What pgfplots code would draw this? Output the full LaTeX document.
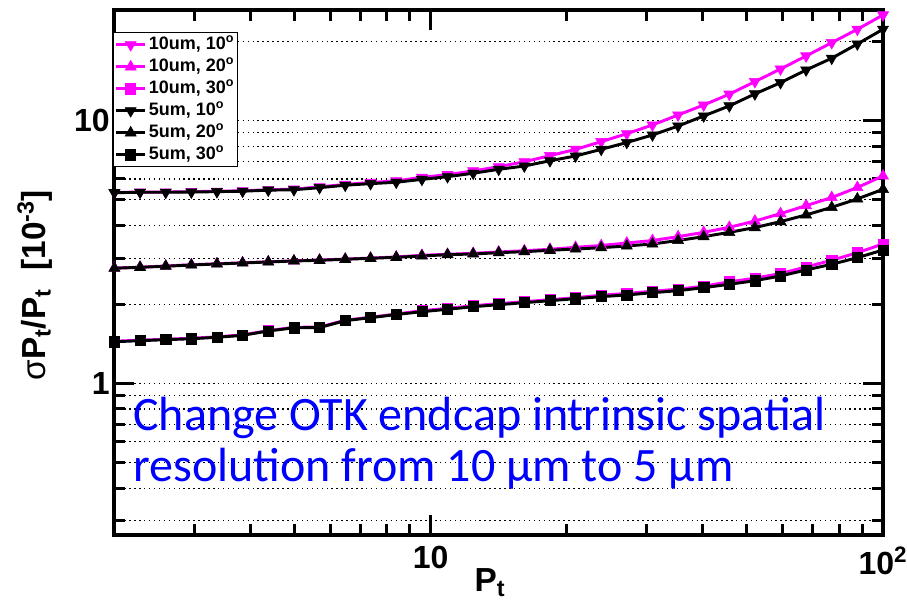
\documentclass[border=0pt]{standalone}
\usepackage{fontspec}
\setmainfont{Liberation Sans}
\newfontfamily\carlito{Carlito}
\usepackage{pgfplots}
\usepackage{pgfplotstable}
\pgfplotsset{compat=1.18}
\definecolor{rootmag}{RGB}{255,0,255}
\definecolor{rootblue}{RGB}{0,0,255}

% sigma(Pt)/Pt [1e-3] vs Pt; m = 10um, b = 5um; 10/20/30 degrees
\pgfplotstableread{
x      m10    m20    m30    b10    b20    b30
2.000  5.33   2.75   1.448  5.32   2.744  1.442
2.279  5.35   2.77   1.461  5.34   2.768  1.455
2.597  5.35   2.80   1.474  5.34   2.793  1.468
2.959  5.37   2.83   1.486  5.35   2.824  1.480
3.371  5.39   2.855  1.505  5.37   2.849  1.499
3.841  5.41   2.88   1.531  5.39   2.874  1.525
4.377  5.46   2.905  1.590  5.44   2.900  1.584
4.987  5.49   2.93   1.636  5.46   2.925  1.629
5.682  5.60   2.95   1.640  5.56   2.943  1.633
6.475  5.72   2.975  1.741  5.68   2.969  1.734
7.368  5.82   3.00   1.787  5.76   2.995  1.780
8.395  5.90   3.03   1.838  5.83   3.021  1.830
9.566  6.09   3.075  1.893  5.98   3.056  1.876
10.899 6.23   3.102  1.933  6.12   3.091  1.916
12.419 6.44   3.129  1.977  6.31   3.110  1.960
14.142 6.68   3.165  2.013  6.53   3.146  1.995
16.114 6.98   3.201  2.048  6.72   3.173  2.030
18.360 7.36   3.241  2.084  7.04   3.212  2.066
20.915 7.78   3.298  2.121  7.34   3.249  2.102
23.829 8.32   3.350  2.168  7.78   3.286  2.140
27.144 8.92   3.424  2.201  8.26   3.336  2.172
30.935 9.63   3.50   2.245  8.82   3.395  2.216
35.245 10.51  3.62   2.285  9.54   3.50   2.255
40.146 11.47  3.76   2.346  10.42  3.62   2.315
45.742 12.61  3.93   2.438  11.38  3.76   2.385
52.100 14.08  4.15   2.515  12.64  3.92   2.461
59.36  15.73  4.43   2.621  13.95  4.13   2.565
67.62  17.63  4.75   2.776  15.59  4.38   2.704
77.04  19.81  5.10   2.943  17.28  4.68   2.842
87.77  22.27  5.57   3.146  19.58  5.04   3.011
100    25.25  6.16   3.395  22.27  5.48   3.221
}\ptres

\begin{document}
\begin{tikzpicture}
\useasboundingbox (-85.8pt,-51.75pt) rectangle (594.45pt,401.25pt);
\begin{axis}[
  at={(0,0)}, anchor=south west,
  scale only axis, width=576.45pt, height=393.75pt,
  xmode=log, ymode=log,
  xmin=2, xmax=100, ymin=0.2652, ymax=26.37,
  clip=false,
  axis line style={line width=3pt},
  every tick/.style={black, line width=2.25pt},
  major tick length=15pt, minor tick length=8pt,
  xtick={10,100}, xticklabels={10,10\textsuperscript{2}},
  minor xtick={3,4,5,6,7,8,9,20,30,40,50,60,70,80,90},
  ytick={1,10}, yticklabels={1,10},
  minor ytick={0.3,0.4,0.5,0.6,0.7,0.8,0.9,2,3,4,5,6,7,8,9,20},
  ymajorgrids, yminorgrids,
  grid style={black, line width=0.8pt, dash pattern=on 1.1pt off 2.6pt},
  minor grid style={black, line width=0.8pt, dash pattern=on 1.1pt off 2.6pt},
  /pgf/number format/assume math mode=true,
  tick label style={font=\fontsize{24}{24}\selectfont\bfseries},
  xticklabel style={yshift=-5pt},
  every axis x label/.style={at={(rel axis cs:0.4887,-0.091)}, anchor=center},
  every axis y label/.style={at={(rel axis cs:-0.1033,0.476)}, rotate=90, anchor=center},
  label style={font=\fontsize{25}{25}\selectfont\bfseries},
  xlabel={P\textsubscript{t}},
  ylabel={{\mdseries σ}P\textsubscript{t}/P\textsubscript{t}\ \ [10\textsuperscript{-3}]},
  legend style={at={(-0.0022,0.9575)}, anchor=north west, draw=black, line width=0.75pt,
    fill=white, font=\fontsize{13.5}{13.5}\selectfont\bfseries,
    inner sep=1pt, row sep=0.5pt,
    nodes={inner sep=1.5pt, text height=10pt, text depth=3pt}},
  legend cell align=left,
  legend image code/.code={\draw[mark repeat=2,mark phase=2] plot coordinates {(0pt,0pt)(11pt,0pt)(22pt,0pt)};},
]
\addplot[rootmag, line width=2.2pt, mark=triangle*, mark size=4.8pt,
  mark options={solid, rotate=180, line width=0.4pt}] table[x=x, y=m10] {\ptres};
\addlegendentry{10um, 10\textsuperscript{o}}
\addplot[rootmag, line width=2.2pt, mark=triangle*, mark size=4.8pt,
  mark options={solid, line width=0.4pt}] table[x=x, y=m20] {\ptres};
\addlegendentry{10um, 20\textsuperscript{o}}
\addplot[rootmag, line width=2.2pt, mark=square*, mark size=3.8pt,
  mark options={solid, line width=0.4pt}] table[x=x, y=m30] {\ptres};
\addlegendentry{10um, 30\textsuperscript{o}}
\addplot[black, line width=2.2pt, mark=triangle*, mark size=4.8pt,
  mark options={solid, rotate=180, line width=0.4pt}] table[x=x, y=b10] {\ptres};
\addlegendentry{5um, 10\textsuperscript{o}}
\addplot[black, line width=2.2pt, mark=triangle*, mark size=4.8pt,
  mark options={solid, line width=0.4pt}] table[x=x, y=b20] {\ptres};
\addlegendentry{5um, 20\textsuperscript{o}}
\addplot[black, line width=2.2pt, mark=square*, mark size=3.8pt,
  mark options={solid, line width=0.4pt}] table[x=x, y=b30] {\ptres};
\addlegendentry{5um, 30\textsuperscript{o}}

\node[anchor=base west, inner sep=0pt, text=rootblue, font=\carlito\fontsize{36}{36}\selectfont]
  at (rel axis cs:0.0242,0.2) {Change OTK endcap intrinsic spatial};
\node[anchor=base west, inner sep=0pt, text=rootblue, font=\carlito\fontsize{36}{36}\selectfont]
  at (rel axis cs:0.0242,0.101) {resolution from 10 µm to 5 µm};
\end{axis}
\end{tikzpicture}
\end{document}
